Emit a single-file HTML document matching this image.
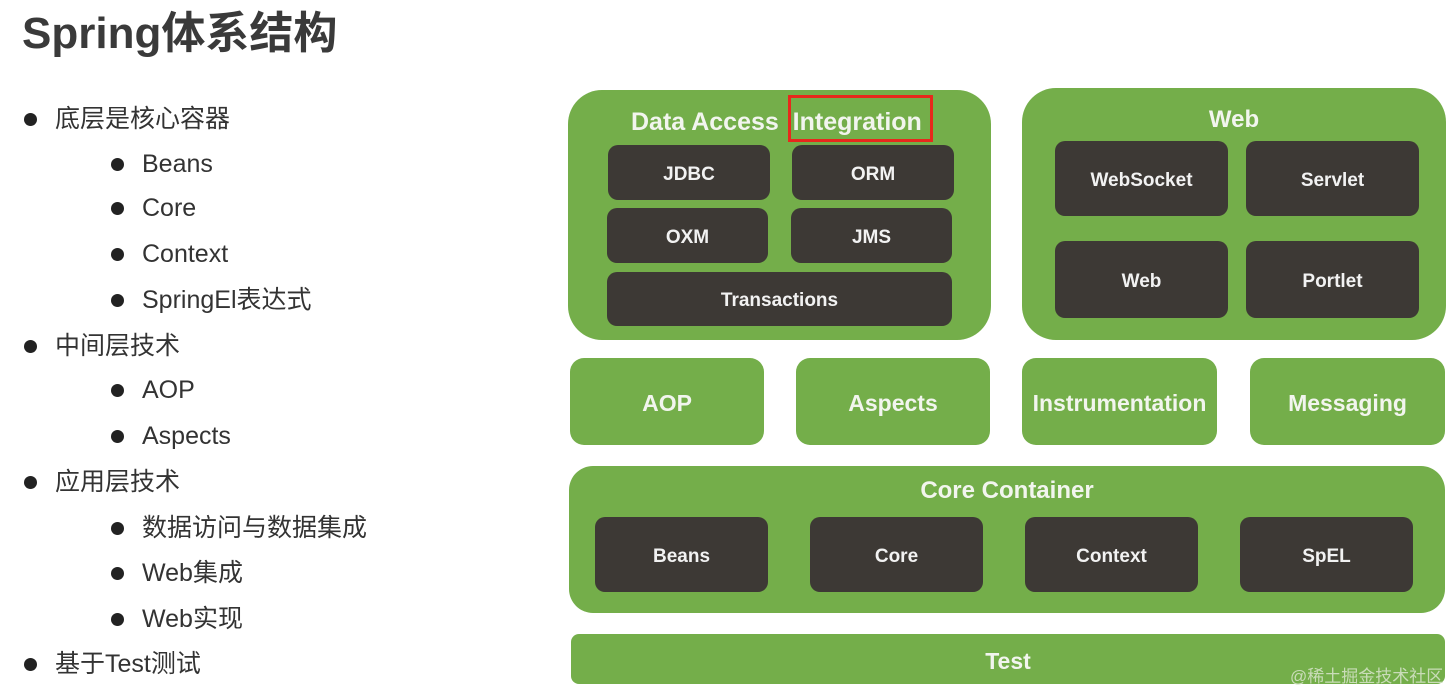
<!DOCTYPE html>
<html><head><meta charset="utf-8"><style>
body{margin:0;width:1455px;height:692px;background:#fff;position:relative;overflow:hidden;font-family:"Liberation Sans","Noto Sans CJK SC",sans-serif}
.a{position:absolute;box-sizing:border-box}
.g{background:#74ae4a;border-radius:14px}
.d{background:#3d3935;border-radius:10px;color:#f2f2f2;font-weight:bold;font-size:19px;display:flex;align-items:center;justify-content:center;padding-top:4px}
.gl{color:#f2f5ee;font-weight:bold;font-size:23px;display:flex;align-items:center;justify-content:center;padding-top:4px}
.t{position:absolute;font-size:25px;color:#333;line-height:30px;white-space:nowrap}
.b{position:absolute;width:13px;height:13px;border-radius:50%;background:#222}
</style></head><body>
<div class="t" style="left:22px;top:9px;font-size:44px;line-height:50px;font-weight:bold;color:#3a3a3a">Spring体系结构</div>

<div class="b" style="left:24px;top:113px"></div><div class="t" style="left:55px;top:104px">底层是核心容器</div>
<div class="b" style="left:111px;top:158px"></div><div class="t" style="left:142px;top:149px">Beans</div>
<div class="b" style="left:111px;top:202px"></div><div class="t" style="left:142px;top:193px">Core</div>
<div class="b" style="left:111px;top:248px"></div><div class="t" style="left:142px;top:239px">Context</div>
<div class="b" style="left:111px;top:294px"></div><div class="t" style="left:142px;top:285px">SpringEl表达式</div>
<div class="b" style="left:24px;top:340px"></div><div class="t" style="left:55px;top:331px">中间层技术</div>
<div class="b" style="left:111px;top:384px"></div><div class="t" style="left:142px;top:375px">AOP</div>
<div class="b" style="left:111px;top:430px"></div><div class="t" style="left:142px;top:421px">Aspects</div>
<div class="b" style="left:24px;top:476px"></div><div class="t" style="left:55px;top:467px">应用层技术</div>
<div class="b" style="left:111px;top:522px"></div><div class="t" style="left:142px;top:513px">数据访问与数据集成</div>
<div class="b" style="left:111px;top:567px"></div><div class="t" style="left:142px;top:558px">Web集成</div>
<div class="b" style="left:111px;top:613px"></div><div class="t" style="left:142px;top:604px">Web实现</div>
<div class="b" style="left:24px;top:658px"></div><div class="t" style="left:55px;top:649px">基于Test测试</div>

<!-- Data access -->
<div class="a g" style="left:568px;top:90px;width:423px;height:250px;border-radius:34px"></div>
<div class="a gl" style="left:631px;top:102px;height:36px;font-size:25px;justify-content:flex-start;white-space:nowrap">Data Access&nbsp;&nbsp;Integration</div>
<div class="a" style="left:788px;top:95px;width:145px;height:47px;border:3px solid #e8281c"></div>
<div class="a d" style="left:608px;top:145px;width:162px;height:55px">JDBC</div>
<div class="a d" style="left:792px;top:145px;width:162px;height:55px">ORM</div>
<div class="a d" style="left:607px;top:208px;width:161px;height:55px">OXM</div>
<div class="a d" style="left:791px;top:208px;width:161px;height:55px">JMS</div>
<div class="a d" style="left:607px;top:272px;width:345px;height:54px">Transactions</div>

<!-- Web -->
<div class="a g" style="left:1022px;top:88px;width:424px;height:252px;border-radius:34px"></div>
<div class="a gl" style="left:1022px;top:100px;width:424px;height:36px;font-size:24px">Web</div>
<div class="a d" style="left:1055px;top:141px;width:173px;height:75px">WebSocket</div>
<div class="a d" style="left:1246px;top:141px;width:173px;height:75px">Servlet</div>
<div class="a d" style="left:1055px;top:241px;width:173px;height:77px">Web</div>
<div class="a d" style="left:1246px;top:241px;width:173px;height:77px">Portlet</div>

<!-- middle row -->
<div class="a g gl" style="left:570px;top:358px;width:194px;height:87px">AOP</div>
<div class="a g gl" style="left:796px;top:358px;width:194px;height:87px">Aspects</div>
<div class="a g gl" style="left:1022px;top:358px;width:195px;height:87px">Instrumentation</div>
<div class="a g gl" style="left:1250px;top:358px;width:195px;height:87px">Messaging</div>

<!-- core -->
<div class="a g" style="left:569px;top:466px;width:876px;height:147px;border-radius:24px"></div>
<div class="a gl" style="left:569px;top:472px;width:876px;height:34px;font-size:24px">Core Container</div>
<div class="a d" style="left:595px;top:517px;width:173px;height:75px">Beans</div>
<div class="a d" style="left:810px;top:517px;width:173px;height:75px">Core</div>
<div class="a d" style="left:1025px;top:517px;width:173px;height:75px">Context</div>
<div class="a d" style="left:1240px;top:517px;width:173px;height:75px">SpEL</div>

<div class="a g gl" style="left:571px;top:634px;width:874px;height:50px;border-radius:8px">Test</div>
<div class="a" style="left:1290px;top:662px;font-size:17px;color:#c9dcb8;white-space:nowrap">@稀土掘金技术社区</div>
</body></html>
